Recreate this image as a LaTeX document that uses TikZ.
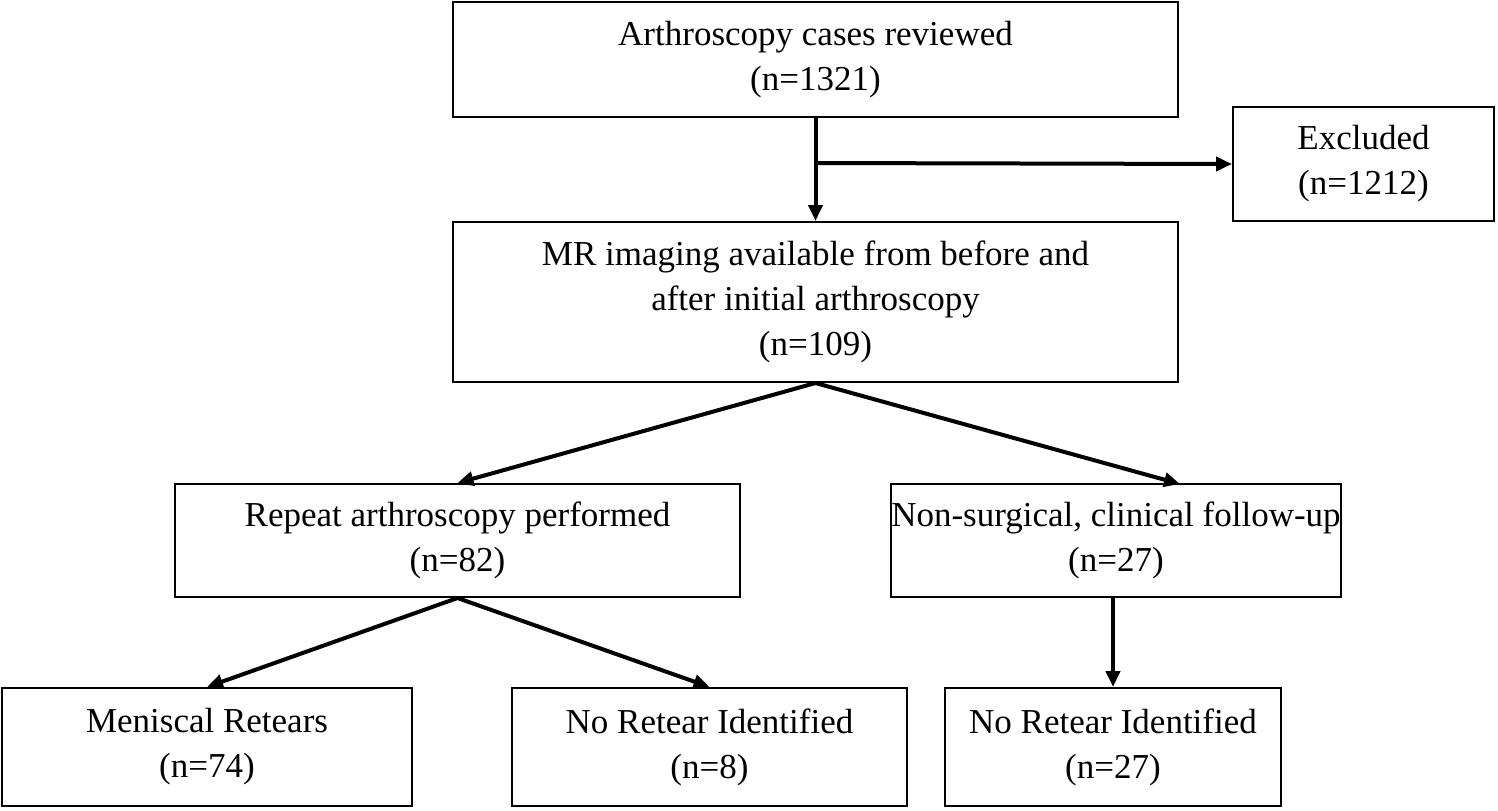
\documentclass[tikz,border=0pt]{standalone}
\usepackage{fontspec}
\setmainfont{Liberation Serif}
\usetikzlibrary{arrows.meta}
\begin{document}
\begin{tikzpicture}[x=0.5pt,y=-0.5pt,
  box/.style={draw,line width=1pt,inner sep=0pt,align=center,font=\fontsize{17.5}{22.5}\selectfont},
  arr/.style={line width=2pt,-{Triangle[length=8pt,width=7pt]}}]
\useasboundingbox (0,0) rectangle (1498,810);
\newcommand\bx[6]{\node[box,minimum width={(#4-#2)*0.5pt},minimum height={(#5-#3)*0.5pt}] (#1) at ({(#2+#4)/2},{(#3+#5)/2}) {#6};}
\bx{top}{453}{2}{1178}{117}{Arthroscopy cases reviewed\\(n=1321)}
\bx{exc}{1233}{107}{1494}{221}{Excluded\\(n=1212)}
\bx{mr}{453}{222}{1178}{382}{MR imaging available from before and\\after initial arthroscopy\\(n=109)}
\bx{rep}{175}{484}{740}{597}{Repeat arthroscopy performed\\(n=82)}
\bx{non}{893}{484}{1339}{597}{Non-surgical, clinical follow-up\\(n=27)}
\bx{men}{2}{688}{412}{806}{Meniscal Retears\\(n=74)}
\bx{nr1}{512}{688}{907}{806}{No Retear Identified\\(n=8)}
\bx{nr2}{945}{688}{1281}{806}{No Retear Identified\\(n=27)}
\coordinate (br) at (815,163);
\draw[arr] (top.south) -- (mr.north);
\draw[arr] (br) -- (exc.west);
\draw[arr] (mr.south) -- (rep.north);
\draw[arr] (mr.south) -- (1180,484);
\draw[arr] (rep.south) -- (men.north);
\draw[arr] (rep.south) -- (nr1.north);
\draw[arr] (nr2.north |- non.south) -- (nr2.north);
\end{tikzpicture}
\end{document}
